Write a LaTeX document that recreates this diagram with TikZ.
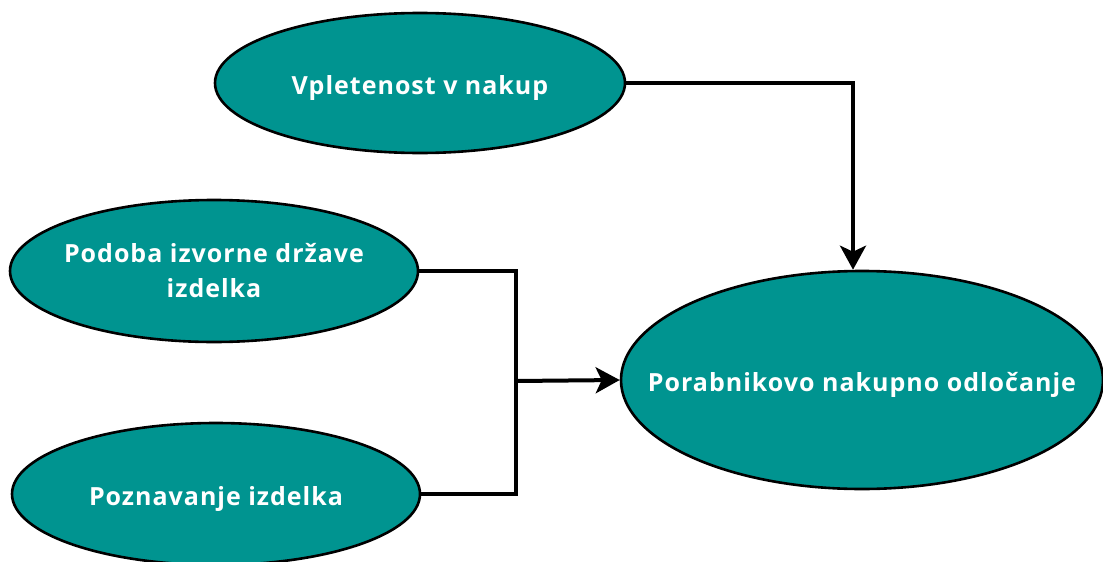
\documentclass[tikz,border=0pt]{standalone}
\usepackage{fontspec}
\setmainfont{Open Sans}
\usetikzlibrary{shapes.geometric,arrows.meta,calc}
\definecolor{tealfill}{RGB}{0,148,144}
\tikzset{
  oval/.style={ellipse, draw=black, line width=2.6pt, fill=tealfill, inner sep=0pt,
    text=white, align=center, font=\fontsize{25}{35}\selectfont\bfseries\addfontfeature{LetterSpace=4}},
  oneline/.style={text height=22pt, text depth=0pt},
  conn/.style={draw=black, line width=4pt},
  arr/.style={conn, -{Stealth[length=24pt,width=26pt,inset=6pt]}}
}
\begin{document}
\begin{tikzpicture}[x=1pt,y=-1pt]
\useasboundingbox (0,0) rectangle (1103,562);
\clip (0,0) rectangle (1103,562);
\node[oval, oneline, minimum width=410pt, minimum height=140pt] (a) at (420,83) {\makebox[0pt]{Vpletenost v nakup}};
\node[oval, minimum width=408pt, minimum height=142pt] (b) at (214,271) {\makebox[0pt]{Podoba izvorne države}\\\makebox[0pt]{izdelka}};
\node[oval, oneline, minimum width=408pt, minimum height=142pt] (c) at (216,494) {\makebox[0pt]{Poznavanje izdelka}};
\node[oval, oneline, minimum width=482pt, minimum height=218pt] (d) at (862,380) {\makebox[0pt]{Porabnikovo nakupno odločanje}};
\coordinate (j) at (516,381);
\coordinate (t) at ($(d.north)+(-9,0)$);
\draw[arr] (a.east) -| (t);
\draw[conn] (b.east) -| (j);
\draw[conn] (c.east) -| (j);
\draw[arr] (j) -- (d.west);
\end{tikzpicture}
\end{document}
